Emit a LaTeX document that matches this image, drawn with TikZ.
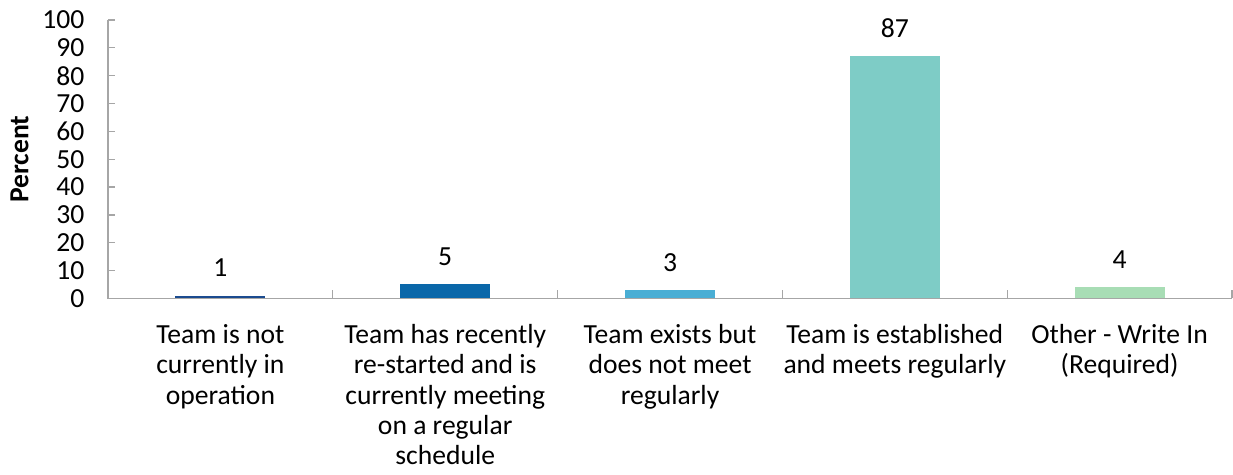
\documentclass[tikz,border=0pt]{standalone}
\usepackage{fontspec}
\setmainfont{Carlito}
\begin{document}
\begin{tikzpicture}[x=1pt,y=1pt,
  axisline/.style={draw=axisgray, line width=1.3pt},
  ticklabel/.style={anchor=east, inner sep=0pt, font=\fontsize{27.6}{30.2}\selectfont},
  bar/.style={anchor=south, inner sep=0pt, minimum width=90pt, draw=none},
  vallabel/.style={anchor=base, inner sep=0pt, font=\fontsize{27.6}{30.2}\selectfont},
  catlabel/.style={anchor=north, align=center, inner sep=0pt, font=\fontsize{27.6}{30.2}\selectfont},
  ytitle/.style={rotate=90, inner sep=0pt, font=\fontsize{27.6}{30.2}\selectfont\bfseries}]
\definecolor{axisgray}{HTML}{A6A6A6}
\definecolor{cA}{HTML}{1B4B8F}
\definecolor{cB}{HTML}{0A67A9}
\definecolor{cC}{HTML}{4AAED4}
\definecolor{cD}{HTML}{7ECCC6}
\definecolor{cE}{HTML}{A8DDB5}
\useasboundingbox (0,0) rectangle (1233,474);
% axes
\coordinate (o) at (108,175.5);
\coordinate (ytop) at (108,454);
\coordinate (xend) at (1232,175.5);
\draw[axisline] (ytop) -- (o) -- (xend);
% y ticks and labels
\foreach \v in {0,10,...,100}{
  \pgfmathsetmacro{\yy}{175.5+2.785*\v}
  \coordinate (t\v) at (108,\yy);
  \coordinate (te\v) at (115,\yy);
  \draw[axisline] (t\v) -- (te\v);
  \node[ticklabel] (yl\v) at (84.5,\yy) {\v};
}
% x category ticks
\foreach \i/\xx in {1/332.8,2/557.6,3/782.4,4/1007.2,5/1232}{
  \coordinate (xb\i) at (\xx,175.5);
  \coordinate (xt\i) at (\xx,183.5);
  \draw[axisline] (xb\i) -- (xt\i);
}
% axis title
\node[ytitle] (ytl) at (19.5,315) {Percent};
% bars
\node[bar, fill=cA, minimum height=2.785pt] (b1) at (220.4,175.5) {};
\node[bar, fill=cB, minimum height=13.925pt] (b2) at (445.2,175.5) {};
\node[bar, fill=cC, minimum height=8.355pt] (b3) at (670,175.5) {};
\node[bar, fill=cD, minimum height=242.3pt] (b4) at (894.8,175.5) {};
\node[bar, fill=cE, minimum height=11.14pt] (b5) at (1119.6,175.5) {};
% value labels
\node[vallabel] (v1) at ([yshift=18.5pt]b1.north) {1};
\node[vallabel] (v2) at ([yshift=18.5pt]b2.north) {5};
\node[vallabel] (v3) at ([yshift=18.5pt]b3.north) {3};
\node[vallabel] (v4) at ([yshift=18.5pt]b4.north) {87};
\node[vallabel] (v5) at ([yshift=18.5pt]b5.north) {4};
% category labels
\node[catlabel] (c1) at (220.4,151.5) {\rule{0pt}{21pt}Team is not\\currently in\\operation};
\node[catlabel] (c2) at (445.2,151.5) {\rule{0pt}{21pt}Team has recently\\re-started and is\\currently meeting\\on a regular\\schedule};
\node[catlabel] (c3) at (670,151.5) {\rule{0pt}{21pt}Team exists but\\does not meet\\regularly};
\node[catlabel] (c4) at (894.8,151.5) {\rule{0pt}{21pt}Team is established\\and meets regularly};
\node[catlabel] (c5) at (1119.6,151.5) {\rule{0pt}{21pt}Other - Write In\\(Required)};
\end{tikzpicture}
\end{document}
